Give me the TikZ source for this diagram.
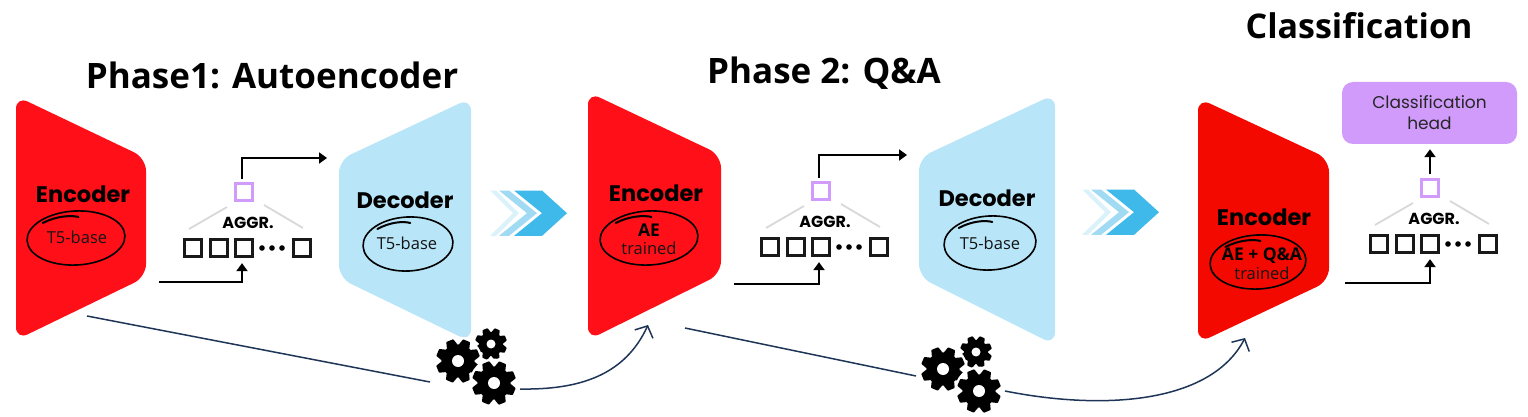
\documentclass[tikz,border=0pt]{standalone}
\usepackage{fontspec}
\setmainfont{Open Sans}
\newfontfamily\blockfont{Poppins}
\usetikzlibrary{arrows.meta,positioning}
\definecolor{encred}{HTML}{FF0F17}
\definecolor{encdark}{HTML}{F30900}
\definecolor{decblue}{HTML}{B8E5F7}
\definecolor{headpurple}{HTML}{D09BFB}
\definecolor{chevA}{HTML}{DCF2FB}
\definecolor{chevB}{HTML}{A0DAF3}
\definecolor{chevC}{HTML}{3FB9EA}
\definecolor{navy}{HTML}{1F3557}
\definecolor{aggrgrey}{HTML}{D8D8D8}
\tikzset{
    title/.style={font=\fontsize{35}{38}\selectfont\bfseries,inner sep=0pt},
    blocktext/.style={font=\blockfont\fontsize{22.5}{24}\selectfont\bfseries,inner sep=0pt},
    basetext/.style={font=\fontsize{16.5}{18}\selectfont,text=black!92,inner sep=0pt},
    boldtext/.style={font=\fontsize{17.5}{18}\selectfont\bfseries,inner sep=0pt},
    token/.style={draw=black!90,line width=2.8pt,minimum size=17.5pt,inner sep=0pt},
    pooled/.style={draw=headpurple,line width=3pt,minimum size=17.5pt,inner sep=0pt},
    flow/.style={black,line width=2.3pt,-{Triangle[length=8pt,width=11pt]}},
    reuse/.style={navy,line width=1.5pt},
    pics/scribble/.style={code={
        \draw[black,line width=1.6pt,rotate=3] (0,0) circle[x radius=#1,y radius=27];
        \draw[black,line width=2pt,line cap=round] (-0.68*#1,-15) .. controls (-0.4*#1,-22) and (-0.1*#1,-23) .. (0.05*#1,-21);
    }},
    pics/aggr/.style={code={
        \node[token] (-s1) at (-51,0) {};
        \node[token] (-s2) at (-25,0) {};
        \node[token] (-s3) at (0,0) {};
        \node[token] (-s4) at (58,0) {};
        \foreach \x in {18,28,38} \fill[black] (\x,0) circle (2.8);
        \node[pooled] (-top) at (0,-56) {};
        \draw[aggrgrey,line width=1.8pt] (-17,-41) -- (-55,-19);
        \draw[aggrgrey,line width=1.8pt] (20,-43) -- (59,-20);
        \node[font=\blockfont\fontsize{16}{18}\selectfont\bfseries,inner sep=0pt] (-lab) at (4,-25) {AGGR.};
    }},
    pics/chevrons/.style={code={
        \fill[chevA] (0,0) -- (6,0) -- (29,22.7) -- (6,45.4) -- (0,45.4) -- (23,22.7) -- cycle;
        \fill[chevB] (9,0) -- (19,0) -- (47,22.7) -- (19,45.4) -- (9,45.4) -- (37,22.7) -- cycle;
        \fill[chevC] (24,0) -- (52,0) -- (77,22.7) -- (52,45.4) -- (24,45.4) -- (52,22.7) -- cycle;
    }},
    pics/gears/.style={code={
        \foreach \gx/\gy/\gr/\gh in {33/-17/16/4.5,0/0/22/6,36/22/22/6}{
            \fill[white] (\gx,\gy) circle (\gr+2.5);
            \begin{scope}[shift={(\gx,\gy)}]
                \fill[black] (0,0) circle (0.76*\gr);
                \foreach \a in {0,45,...,315}
                    \fill[black,rotate=\a+22,rounded corners=0.6pt] (-0.26*\gr,-0.7*\gr) -- (-0.17*\gr,-\gr) -- (0.17*\gr,-\gr) -- (0.26*\gr,-0.7*\gr) -- cycle;
                \fill[white] (0,0) circle (\gh);
            \end{scope}
        }
    }}
}
\begin{document}
\begin{tikzpicture}[x=1pt,y=-1pt]
    \useasboundingbox (0,0) rectangle (1528,417);

    % blocks
    \fill[encred,rounded corners=13pt] (16,96) -- (146,158) -- (146,277) -- (16,340) -- cycle;
    \fill[decblue,rounded corners=13pt] (471,98) -- (339,160) -- (339,278) -- (471,342) -- cycle;
    \fill[encred,rounded corners=13pt] (588,92) -- (721,155) -- (721,274) -- (588,340) -- cycle;
    \fill[decblue,rounded corners=13pt] (1055,94) -- (919,158) -- (919,277) -- (1055,345) -- cycle;
    \fill[encdark,rounded corners=13pt] (1198,98) -- (1329,159) -- (1329,281) -- (1198,343) -- cycle;

    % titles
    \node[title] (phaseA) at (272,75) {Phase1: Autoencoder};
    \node[title] (phaseB) at (824,73) {Phase 2: Q\&A};
    \node[title,font=\fontsize{34}{38}\selectfont\bfseries] (phaseC) at (1359,26) {Classification};

    % block labels
    \node[blocktext] (encA) at (83,194) {Encoder};
    \node[blocktext] (decA) at (405,200) {Decoder};
    \node[blocktext] (encB) at (656,193) {Encoder};
    \node[blocktext] (decB) at (987,198) {Decoder};
    \node[blocktext] (encC) at (1264,217) {Encoder};

    \pic at (76,238) {scribble=49};
    \pic at (408,244) {scribble=45};
    \pic at (649,238) {scribble=49};
    \pic at (990,243) {scribble=46};
    \pic at (1258,262) {scribble=48};

    \node[basetext] (baseA) at (77,237) {T5-base};
    \node[basetext] (baseB) at (407,243) {T5-base};
    \node[boldtext] (aeB) at (649,230) {AE};
    \node[basetext] (trainedB) at (649,248) {trained};
    \node[basetext] (baseC) at (990,243) {T5-base};
    \node[boldtext] (aeC) at (1262,256) {AE + Q\&A};
    \node[basetext] (trainedC) at (1262,273) {trained};

    % aggregation
    \pic (aggrA) at (244,248) {aggr};
    \pic (aggrB) at (821,247) {aggr};
    \pic (aggrC) at (1430,244) {aggr};

    \coordinate (inA) at (159,282);
    \coordinate (outA) at (327,158);
    \coordinate (inB) at (734,284);
    \coordinate (outB) at (907,155);
    \coordinate (inC) at (1345,283);
    \draw[flow,shorten >=5pt] (inA) -| ([xshift=-2pt]aggrA-s3.south);
    \draw[flow] ([xshift=-2pt,yshift=3pt]aggrA-top.north) |- (outA);
    \draw[flow,shorten >=5pt] (inB) -| ([xshift=-2pt]aggrB-s3.south);
    \draw[flow] ([xshift=-2pt,yshift=3pt]aggrB-top.north) |- (outB);
    \draw[flow,shorten >=5pt] (inC) -| (aggrC-s3.south);

    \node[fill=headpurple,rounded corners=11pt,minimum width=175pt,minimum height=62pt,inner sep=0pt,
        align=center,text=black!85,font=\blockfont\fontsize{17}{21}\selectfont] (head) at (1429.5,113) {Classification\\head};
    \draw[flow,shorten >=5pt,shorten <=4pt] (aggrC-top.north) -- (head.south -| aggrC-top.north);

    % phase chevrons
    \pic at (490,190.5) {chevrons};
    \pic at (1082,189.5) {chevrons};

    % weights handed over
    \pic (gearsA) at (458,361) {gears};
    \pic (gearsB) at (943,369) {gears};

    \coordinate (fromA) at (87,316);
    \coordinate (gearinA) at (430,382);
    \coordinate (gearoutA) at (520,389);
    \coordinate (toB) at (648,325);
    \coordinate (fromB) at (685,328);
    \coordinate (gearinB) at (916,376);
    \coordinate (gearoutB) at (1005,391);
    \coordinate (toC) at (1245,338);
    \draw[reuse] (fromA) -- (gearinA);
    \draw[reuse,-{Straight Barb[length=9pt,width=20pt]}] (gearoutA) .. controls (580,390) and (625,375) .. (toB);
    \draw[reuse] (fromB) -- (gearinB);
    \draw[reuse,-{Straight Barb[length=9pt,width=20pt]}] (gearoutB) .. controls (1100,410) and (1210,405) .. (toC);
\end{tikzpicture}
\end{document}
